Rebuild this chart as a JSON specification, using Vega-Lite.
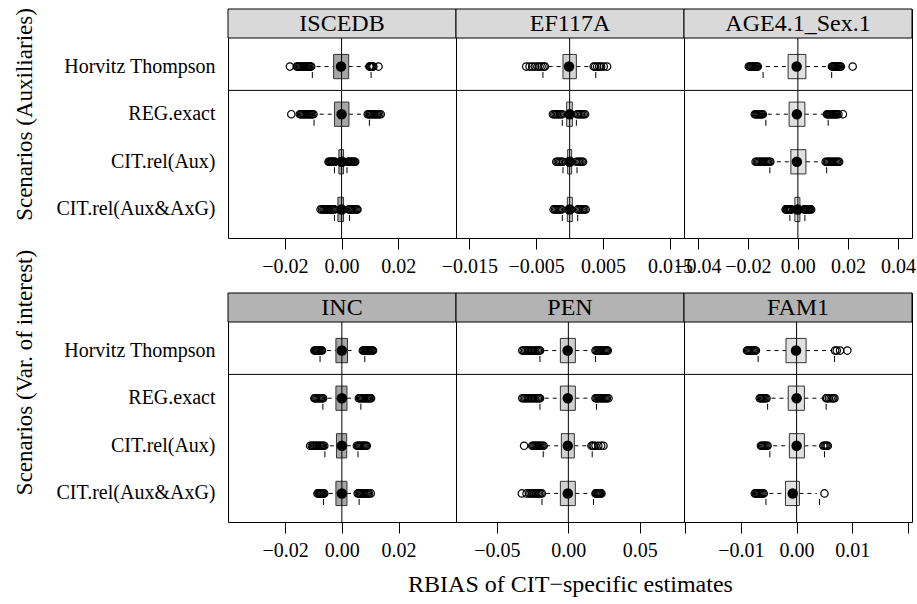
{
  "$schema": "https://vega.github.io/schema/vega-lite/v6.json",
  "padding": {"left": 13, "top": 7, "right": 2, "bottom": 2},
  "background": "white",
  "columns": 3,
  "spacing": {"row": 55, "column": 0},
  "bounds": "flush",
  "datasets": {
    "boxes": [
      {"panel":"ISCEDB","scenario":"Horvitz Thompson","lo":-0.0088,"q1":-0.0028,"med":-0.0002,"q3":0.0025,"hi":0.0088,"tlo":-0.0103,"thi":0.0104,"out":[-0.0182,-0.0158,-0.0154,-0.0150,-0.0146,-0.0142,-0.0138,-0.0134,-0.0130,-0.0126,-0.0122,-0.0118,-0.0114,-0.0110,-0.0107,0.0098,0.0100,0.0103,0.0106,0.0109,0.0112,0.0130]},
      {"panel":"ISCEDB","scenario":"REG.exact","lo":-0.0077,"q1":-0.0025,"med":0.0,"q3":0.0026,"hi":0.008,"tlo":-0.0097,"thi":0.0098,"out":[-0.0177,-0.0147,-0.0143,-0.0139,-0.0135,-0.0131,-0.0127,-0.0123,-0.0119,-0.0115,-0.0111,-0.0107,-0.0103,-0.0099,0.0092,0.0096,0.0100,0.0104,0.0108,0.0112,0.0116,0.0120,0.0124,0.0128,0.0133,0.0138]},
      {"panel":"ISCEDB","scenario":"CIT.rel(Aux)","lo":-0.0017,"q1":-0.00095,"med":0.0001,"q3":0.0007,"hi":0.0017,"tlo":-0.0025,"thi":0.0019,"out":[-0.0046,-0.0043,-0.0040,-0.0037,-0.0034,-0.0031,-0.0028,-0.0025,-0.0022,0.0021,0.0024,0.0027,0.0030,0.0033,0.0036,0.0039,0.0042,0.0045,0.0048]},
      {"panel":"ISCEDB","scenario":"CIT.rel(Aux&AxG)","lo":-0.0022,"q1":-0.0013,"med":0.0,"q3":0.0007,"hi":0.002,"tlo":-0.0025,"thi":0.0028,"out":[-0.0074,-0.0069,-0.0064,-0.0060,-0.0056,-0.0052,-0.0048,-0.0044,-0.0040,-0.0036,-0.0032,-0.0028,-0.0025,0.0025,0.0029,0.0033,0.0037,0.0041,0.0045,0.0049,0.0053,0.0056]},
      {"panel":"EF117A","scenario":"Horvitz Thompson","lo":-0.00315,"q1":-0.001,"med":-0.0001,"q3":0.001,"hi":0.0029,"tlo":-0.004,"thi":0.0039,"out":[-0.0065,-0.0060,-0.0056,-0.0052,-0.0048,-0.0045,-0.0042,-0.0039,-0.0037,0.0036,0.0038,0.0041,0.0044,0.0047,0.0051,0.0056]},
      {"panel":"EF117A","scenario":"REG.exact","lo":-0.0008,"q1":-0.00045,"med":0.0,"q3":0.0004,"hi":0.0008,"tlo":-0.0011,"thi":0.001,"out":[-0.0025,-0.0023,-0.0021,-0.0019,-0.0017,-0.0015,-0.0013,-0.0011,0.0011,0.0013,0.0015,0.0017,0.0019,0.0021,0.0023]},
      {"panel":"EF117A","scenario":"CIT.rel(Aux)","lo":-0.0008,"q1":-0.0003,"med":0.0,"q3":0.0003,"hi":0.0008,"tlo":-0.001,"thi":0.0011,"out":[-0.0020,-0.0018,-0.0016,-0.0014,-0.0012,-0.0010,0.0010,0.0012,0.0014,0.0016,0.0018,0.0020]},
      {"panel":"EF117A","scenario":"CIT.rel(Aux&AxG)","lo":-0.0009,"q1":-0.00035,"med":0.0,"q3":0.0004,"hi":0.0009,"tlo":-0.0011,"thi":0.0012,"out":[-0.0024,-0.0022,-0.0020,-0.0018,-0.0016,-0.0014,-0.0012,0.0012,0.0014,0.0016,0.0018,0.0020,0.0022,0.0024]},
      {"panel":"AGE4.1_Sex.1","scenario":"Horvitz Thompson","lo":-0.0128,"q1":-0.0039,"med":-0.0005,"q3":0.0032,"hi":0.012,"tlo":-0.0139,"thi":0.0135,"out":[-0.0196,-0.0192,-0.0188,-0.0184,-0.0180,-0.0176,-0.0172,-0.0168,-0.0164,-0.0160,0.0136,0.0140,0.0144,0.0148,0.0152,0.0156,0.0160,0.0164,0.0168,0.0172,0.0219]},
      {"panel":"AGE4.1_Sex.1","scenario":"REG.exact","lo":-0.012,"q1":-0.0035,"med":-0.0004,"q3":0.0028,"hi":0.01,"tlo":-0.0128,"thi":0.0121,"out":[-0.0172,-0.0168,-0.0164,-0.0160,-0.0156,-0.0152,-0.0148,-0.0144,-0.0140,0.0116,0.0120,0.0124,0.0128,0.0132,0.0136,0.0140,0.0144,0.0148,0.0152,0.0156,0.0162,0.0180]},
      {"panel":"AGE4.1_Sex.1","scenario":"CIT.rel(Aux)","lo":-0.0084,"q1":-0.0028,"med":-0.0004,"q3":0.0032,"hi":0.0088,"tlo":-0.0112,"thi":0.0115,"out":[-0.0169,-0.0164,-0.0159,-0.0154,-0.0149,-0.0144,-0.0139,-0.0134,-0.0129,-0.0124,-0.0119,-0.0114,-0.0110,0.0111,0.0116,0.0121,0.0126,0.0131,0.0136,0.0141,0.0146,0.0151,0.0156,0.0161,0.0165]},
      {"panel":"AGE4.1_Sex.1","scenario":"CIT.rel(Aux&AxG)","lo":-0.0024,"q1":-0.0012,"med":-0.0001,"q3":0.0008,"hi":0.0022,"tlo":-0.0032,"thi":0.0028,"out":[-0.0049,-0.0046,-0.0043,-0.0040,-0.0037,-0.0034,-0.0031,-0.0028,-0.0026,0.0025,0.0028,0.0031,0.0034,0.0037,0.0040,0.0043,0.0046,0.0049,0.0053]},
      {"panel":"INC","scenario":"Horvitz Thompson","lo":-0.0053,"q1":-0.0021,"med":0.0,"q3":0.002,"hi":0.0038,"tlo":-0.0077,"thi":0.0081,"out":[-0.0097,-0.0094,-0.0091,-0.0088,-0.0085,-0.0082,-0.0079,-0.0076,-0.0073,-0.0070,0.0074,0.0077,0.0080,0.0083,0.0086,0.0089,0.0092,0.0095,0.0098,0.0101,0.0104,0.0107,0.0110]},
      {"panel":"INC","scenario":"REG.exact","lo":-0.005,"q1":-0.0021,"med":0.0,"q3":0.0018,"hi":0.0042,"tlo":-0.0067,"thi":0.0067,"out":[-0.0097,-0.0094,-0.0090,-0.0086,-0.0082,-0.0078,-0.0074,-0.0070,-0.0066,0.0060,0.0064,0.0068,0.0072,0.0076,0.0080,0.0084,0.0088,0.0092,0.0096,0.0100,0.0103]},
      {"panel":"INC","scenario":"CIT.rel(Aux)","lo":-0.0042,"q1":-0.0019,"med":0.0,"q3":0.0017,"hi":0.0035,"tlo":-0.006,"thi":0.0057,"out":[-0.0112,-0.0106,-0.0102,-0.0098,-0.0094,-0.0090,-0.0086,-0.0082,-0.0078,-0.0074,-0.0070,-0.0066,-0.0062,0.0053,0.0057,0.0061,0.0065,0.0069,0.0073,0.0077,0.0081,0.0085,0.0088]},
      {"panel":"INC","scenario":"CIT.rel(Aux&AxG)","lo":-0.0046,"q1":-0.0021,"med":0.0,"q3":0.0018,"hi":0.0035,"tlo":-0.0065,"thi":0.0061,"out":[-0.0086,-0.0083,-0.0080,-0.0077,-0.0074,-0.0071,-0.0068,-0.0065,-0.0062,0.0056,0.0060,0.0064,0.0068,0.0072,0.0076,0.0080,0.0084,0.0088,0.0092,0.0096,0.0102]},
      {"panel":"PEN","scenario":"Horvitz Thompson","lo":-0.0169,"q1":-0.0056,"med":-0.0005,"q3":0.0049,"hi":0.0162,"tlo":-0.0199,"thi":0.019,"out":[-0.0323,-0.0313,-0.0303,-0.0293,-0.0283,-0.0273,-0.0263,-0.0253,-0.0243,-0.0233,-0.0223,-0.0213,-0.0205,-0.0198,0.0190,0.0198,0.0206,0.0214,0.0222,0.0230,0.0238,0.0246,0.0254,0.0262,0.0270,0.0276]},
      {"panel":"PEN","scenario":"REG.exact","lo":-0.0165,"q1":-0.0056,"med":-0.0004,"q3":0.0049,"hi":0.016,"tlo":-0.0199,"thi":0.0197,"out":[-0.0323,-0.0313,-0.0303,-0.0293,-0.0283,-0.0273,-0.0263,-0.0253,-0.0243,-0.0233,-0.0223,-0.0213,-0.0205,-0.0198,0.0190,0.0198,0.0206,0.0214,0.0222,0.0230,0.0238,0.0246,0.0254,0.0262,0.0270,0.0281]},
      {"panel":"PEN","scenario":"CIT.rel(Aux)","lo":-0.0155,"q1":-0.0049,"med":-0.0004,"q3":0.0042,"hi":0.0134,"tlo":-0.0176,"thi":0.0167,"out":[-0.0310,-0.0253,-0.0245,-0.0237,-0.0229,-0.0221,-0.0213,-0.0205,-0.0197,-0.0189,-0.0181,-0.0173,0.0162,0.0170,0.0178,0.0190,0.0210,0.0230,0.0246]},
      {"panel":"PEN","scenario":"CIT.rel(Aux&AxG)","lo":-0.0155,"q1":-0.0056,"med":-0.0004,"q3":0.0049,"hi":0.0155,"tlo":-0.0185,"thi":0.0176,"out":[-0.0326,-0.0293,-0.0275,-0.0265,-0.0255,-0.0245,-0.0235,-0.0225,-0.0215,-0.0205,-0.0195,-0.0185,0.0190,0.0196,0.0202,0.0208,0.0214,0.0220,0.0226,0.0232]},
      {"panel":"FAM1","scenario":"Horvitz Thompson","lo":-0.0054,"q1":-0.0019,"med":-0.0001,"q3":0.0017,"hi":0.0062,"tlo":-0.0069,"thi":0.0068,"out":[-0.0089,-0.0087,-0.0085,-0.0083,-0.0081,-0.0079,-0.0077,-0.0075,-0.0073,0.0069,0.0072,0.0078,0.0091]},
      {"panel":"FAM1","scenario":"REG.exact","lo":-0.0045,"q1":-0.0015,"med":0.0,"q3":0.0014,"hi":0.0045,"tlo":-0.0052,"thi":0.0053,"out":[-0.0066,-0.0064,-0.0062,-0.0060,-0.0058,-0.0056,-0.0054,0.0053,0.0055,0.0058,0.0061,0.0064,0.0066,0.0068]},
      {"panel":"FAM1","scenario":"CIT.rel(Aux)","lo":-0.0042,"q1":-0.0013,"med":0.0,"q3":0.0014,"hi":0.004,"tlo":-0.0048,"thi":0.005,"out":[-0.0064,-0.0062,-0.0060,-0.0058,-0.0056,-0.0054,-0.0052,0.0048,0.0050,0.0052,0.0054,0.0056]},
      {"panel":"FAM1","scenario":"CIT.rel(Aux&AxG)","lo":-0.0049,"q1":-0.002,"med":-0.0007,"q3":0.0005,"hi":0.0036,"tlo":-0.0055,"thi":0.0041,"out":[-0.0075,-0.0073,-0.0071,-0.0069,-0.0067,-0.0065,-0.0063,-0.0061,-0.0059,0.0050]}
    ]
  },
  "concat": [
    {
      "width": 228, "height": 229,
      "resolve": {"scale": {"y": "independent"}},
      "layer": [
        {
          "data": {"name": "boxes"},
          "transform": [{"filter": "datum.panel == 'ISCEDB'"}],
          "encoding": {"y": {"field": "scenario", "type": "nominal", "scale": {"type": "band", "domain": ["Horvitz Thompson","REG.exact","CIT.rel(Aux)","CIT.rel(Aux&AxG)"], "range": [29, 229], "paddingInner": 0, "paddingOuter": 0.1}, "axis": {"title": "Scenarios (Auxiliaries)", "titleY": 105}}},
          "layer": [
            {"mark": {"type": "rule", "color": "black", "strokeDash": [4, 4]}, "encoding": {"x": {"field": "lo", "type": "quantitative", "scale": {"domain": [-0.04, 0.0403], "nice": false, "zero": false}, "axis": {"values": [-0.02, 0, 0.02], "format": ".2f", "title": null}}, "x2": {"field": "q1"}}},
            {"mark": {"type": "rule", "color": "black", "strokeDash": [4, 4]}, "encoding": {"x": {"field": "q3", "type": "quantitative"}, "x2": {"field": "hi"}}},
            {"mark": {"type": "bar", "height": {"band": 0.51}, "fill": "#a6a6a6", "stroke": "#333333", "strokeWidth": 1}, "encoding": {"x": {"field": "q1", "type": "quantitative"}, "x2": {"field": "q3"}}},
            {"transform": [{"filter": "datum.scenario == 'REG.exact'"}], "mark": {"type": "rule", "color": "black"}, "encoding": {"y": {"field": "scenario", "type": "nominal", "bandPosition": 0}}},
            {"transform": [{"fold": ["tlo", "thi"], "as": ["k", "t"]}], "mark": {"type": "tick", "orient": "vertical", "size": 6, "thickness": 1, "color": "black", "opacity": 1, "yOffset": 8.5}, "encoding": {"x": {"field": "t", "type": "quantitative"}}},
            {"transform": [{"flatten": ["out"], "as": ["v"]}], "mark": {"type": "point", "shape": "circle", "filled": false, "size": 55, "color": "black", "strokeWidth": 1.2, "opacity": 1}, "encoding": {"x": {"field": "v", "type": "quantitative"}}},
            {"mark": {"type": "point", "shape": "circle", "filled": true, "size": 110, "color": "black", "opacity": 1}, "encoding": {"x": {"field": "med", "type": "quantitative"}}}
          ]
        },
        {"data": {"values": [{}]}, "mark": {"type": "rule", "color": "black"}, "encoding": {"x": {"datum": 0, "type": "quantitative"}}},
        {
          "data": {"values": [{"panel": "ISCEDB"}]},
          "encoding": {"y": {"field": "panel", "type": "nominal", "scale": {"type": "band", "range": [0, 29], "paddingInner": 0, "paddingOuter": 0}, "axis": null}},
          "layer": [
            {"mark": {"type": "bar", "fill": "#d9d9d9", "stroke": "black", "strokeWidth": 1}},
            {"mark": {"type": "text", "fontSize": 24, "color": "black"}, "encoding": {"text": {"field": "panel"}}}
          ]
        }
      ]
    },
    {
      "width": 228, "height": 229,
      "resolve": {"scale": {"y": "independent"}},
      "layer": [
        {
          "data": {"name": "boxes"},
          "transform": [{"filter": "datum.panel == 'EF117A'"}],
          "encoding": {"y": {"field": "scenario", "type": "nominal", "scale": {"type": "band", "domain": ["Horvitz Thompson","REG.exact","CIT.rel(Aux)","CIT.rel(Aux&AxG)"], "range": [29, 229], "paddingInner": 0, "paddingOuter": 0.1}, "axis": null}},
          "layer": [
            {"mark": {"type": "rule", "color": "black", "strokeDash": [4, 4]}, "encoding": {"x": {"field": "lo", "type": "quantitative", "scale": {"domain": [-0.017, 0.0171], "nice": false, "zero": false}, "axis": {"values": [-0.015, -0.01, -0.005, 0, 0.005, 0.01, 0.015], "format": ".3f", "labelExpr": "round(datum.value*1000) % 10 == 0 ? '' : datum.label", "title": null}}, "x2": {"field": "q1"}}},
            {"mark": {"type": "rule", "color": "black", "strokeDash": [4, 4]}, "encoding": {"x": {"field": "q3", "type": "quantitative"}, "x2": {"field": "hi"}}},
            {"mark": {"type": "bar", "height": {"band": 0.51}, "fill": "#d3d3d3", "stroke": "#333333", "strokeWidth": 1}, "encoding": {"x": {"field": "q1", "type": "quantitative"}, "x2": {"field": "q3"}}},
            {"transform": [{"filter": "datum.scenario == 'REG.exact'"}], "mark": {"type": "rule", "color": "black"}, "encoding": {"y": {"field": "scenario", "type": "nominal", "bandPosition": 0}}},
            {"transform": [{"fold": ["tlo", "thi"], "as": ["k", "t"]}], "mark": {"type": "tick", "orient": "vertical", "size": 6, "thickness": 1, "color": "black", "opacity": 1, "yOffset": 8.5}, "encoding": {"x": {"field": "t", "type": "quantitative"}}},
            {"transform": [{"flatten": ["out"], "as": ["v"]}], "mark": {"type": "point", "shape": "circle", "filled": false, "size": 55, "color": "black", "strokeWidth": 1.2, "opacity": 1}, "encoding": {"x": {"field": "v", "type": "quantitative"}}},
            {"mark": {"type": "point", "shape": "circle", "filled": true, "size": 110, "color": "black", "opacity": 1}, "encoding": {"x": {"field": "med", "type": "quantitative"}}}
          ]
        },
        {"data": {"values": [{}]}, "mark": {"type": "rule", "color": "black"}, "encoding": {"x": {"datum": 0, "type": "quantitative"}}},
        {
          "data": {"values": [{"panel": "EF117A"}]},
          "encoding": {"y": {"field": "panel", "type": "nominal", "scale": {"type": "band", "range": [0, 29], "paddingInner": 0, "paddingOuter": 0}, "axis": null}},
          "layer": [
            {"mark": {"type": "bar", "fill": "#d9d9d9", "stroke": "black", "strokeWidth": 1}},
            {"mark": {"type": "text", "fontSize": 24, "color": "black"}, "encoding": {"text": {"field": "panel"}}}
          ]
        }
      ]
    },
    {
      "width": 228, "height": 229,
      "resolve": {"scale": {"y": "independent"}},
      "layer": [
        {
          "data": {"name": "boxes"},
          "transform": [{"filter": "datum.panel == 'AGE4.1_Sex.1'"}],
          "encoding": {"y": {"field": "scenario", "type": "nominal", "scale": {"type": "band", "domain": ["Horvitz Thompson","REG.exact","CIT.rel(Aux)","CIT.rel(Aux&AxG)"], "range": [29, 229], "paddingInner": 0, "paddingOuter": 0.1}, "axis": null}},
          "layer": [
            {"mark": {"type": "rule", "color": "black", "strokeDash": [4, 4]}, "encoding": {"x": {"field": "lo", "type": "quantitative", "scale": {"domain": [-0.0455, 0.0456], "nice": false, "zero": false}, "axis": {"values": [-0.04, -0.02, 0, 0.02, 0.04], "format": ".2f", "title": null}}, "x2": {"field": "q1"}}},
            {"mark": {"type": "rule", "color": "black", "strokeDash": [4, 4]}, "encoding": {"x": {"field": "q3", "type": "quantitative"}, "x2": {"field": "hi"}}},
            {"mark": {"type": "bar", "height": {"band": 0.51}, "fill": "#e0e0e0", "stroke": "#333333", "strokeWidth": 1}, "encoding": {"x": {"field": "q1", "type": "quantitative"}, "x2": {"field": "q3"}}},
            {"transform": [{"filter": "datum.scenario == 'REG.exact'"}], "mark": {"type": "rule", "color": "black"}, "encoding": {"y": {"field": "scenario", "type": "nominal", "bandPosition": 0}}},
            {"transform": [{"fold": ["tlo", "thi"], "as": ["k", "t"]}], "mark": {"type": "tick", "orient": "vertical", "size": 6, "thickness": 1, "color": "black", "opacity": 1, "yOffset": 8.5}, "encoding": {"x": {"field": "t", "type": "quantitative"}}},
            {"transform": [{"flatten": ["out"], "as": ["v"]}], "mark": {"type": "point", "shape": "circle", "filled": false, "size": 55, "color": "black", "strokeWidth": 1.2, "opacity": 1}, "encoding": {"x": {"field": "v", "type": "quantitative"}}},
            {"mark": {"type": "point", "shape": "circle", "filled": true, "size": 110, "color": "black", "opacity": 1}, "encoding": {"x": {"field": "med", "type": "quantitative"}}}
          ]
        },
        {"data": {"values": [{}]}, "mark": {"type": "rule", "color": "black"}, "encoding": {"x": {"datum": 0, "type": "quantitative"}}},
        {
          "data": {"values": [{"panel": "AGE4.1_Sex.1"}]},
          "encoding": {"y": {"field": "panel", "type": "nominal", "scale": {"type": "band", "range": [0, 29], "paddingInner": 0, "paddingOuter": 0}, "axis": null}},
          "layer": [
            {"mark": {"type": "bar", "fill": "#d9d9d9", "stroke": "black", "strokeWidth": 1}},
            {"mark": {"type": "text", "fontSize": 24, "color": "black"}, "encoding": {"text": {"field": "panel"}}}
          ]
        }
      ]
    },
    {
      "width": 228, "height": 229,
      "resolve": {"scale": {"y": "independent"}},
      "layer": [
        {
          "data": {"name": "boxes"},
          "transform": [{"filter": "datum.panel == 'INC'"}],
          "encoding": {"y": {"field": "scenario", "type": "nominal", "scale": {"type": "band", "domain": ["Horvitz Thompson","REG.exact","CIT.rel(Aux)","CIT.rel(Aux&AxG)"], "range": [29, 229], "paddingInner": 0, "paddingOuter": 0.1}, "axis": {"title": "Scenarios (Var. of interest)", "titleY": 79}}},
          "layer": [
            {"mark": {"type": "rule", "color": "black", "strokeDash": [4, 4]}, "encoding": {"x": {"field": "lo", "type": "quantitative", "scale": {"domain": [-0.0402, 0.0403], "nice": false, "zero": false}, "axis": {"values": [-0.02, 0, 0.02], "format": ".2f", "title": null}}, "x2": {"field": "q1"}}},
            {"mark": {"type": "rule", "color": "black", "strokeDash": [4, 4]}, "encoding": {"x": {"field": "q3", "type": "quantitative"}, "x2": {"field": "hi"}}},
            {"mark": {"type": "bar", "height": {"band": 0.51}, "fill": "#a6a6a6", "stroke": "#333333", "strokeWidth": 1}, "encoding": {"x": {"field": "q1", "type": "quantitative"}, "x2": {"field": "q3"}}},
            {"transform": [{"filter": "datum.scenario == 'REG.exact'"}], "mark": {"type": "rule", "color": "black"}, "encoding": {"y": {"field": "scenario", "type": "nominal", "bandPosition": 0}}},
            {"transform": [{"fold": ["tlo", "thi"], "as": ["k", "t"]}], "mark": {"type": "tick", "orient": "vertical", "size": 6, "thickness": 1, "color": "black", "opacity": 1, "yOffset": 8.5}, "encoding": {"x": {"field": "t", "type": "quantitative"}}},
            {"transform": [{"flatten": ["out"], "as": ["v"]}], "mark": {"type": "point", "shape": "circle", "filled": false, "size": 55, "color": "black", "strokeWidth": 1.2, "opacity": 1}, "encoding": {"x": {"field": "v", "type": "quantitative"}}},
            {"mark": {"type": "point", "shape": "circle", "filled": true, "size": 110, "color": "black", "opacity": 1}, "encoding": {"x": {"field": "med", "type": "quantitative"}}}
          ]
        },
        {"data": {"values": [{}]}, "mark": {"type": "rule", "color": "black"}, "encoding": {"x": {"datum": 0, "type": "quantitative"}}},
        {
          "data": {"values": [{"panel": "INC"}]},
          "encoding": {"y": {"field": "panel", "type": "nominal", "scale": {"type": "band", "range": [0, 29], "paddingInner": 0, "paddingOuter": 0}, "axis": null}},
          "layer": [
            {"mark": {"type": "bar", "fill": "#b3b3b3", "stroke": "black", "strokeWidth": 1}},
            {"mark": {"type": "text", "fontSize": 24, "color": "black"}, "encoding": {"text": {"field": "panel"}}}
          ]
        }
      ]
    },
    {
      "width": 228, "height": 229,
      "resolve": {"scale": {"y": "independent"}},
      "layer": [
        {
          "data": {"name": "boxes"},
          "transform": [{"filter": "datum.panel == 'PEN'"}],
          "encoding": {"y": {"field": "scenario", "type": "nominal", "scale": {"type": "band", "domain": ["Horvitz Thompson","REG.exact","CIT.rel(Aux)","CIT.rel(Aux&AxG)"], "range": [29, 229], "paddingInner": 0, "paddingOuter": 0.1}, "axis": null}},
          "layer": [
            {"mark": {"type": "rule", "color": "black", "strokeDash": [4, 4]}, "encoding": {"x": {"field": "lo", "type": "quantitative", "scale": {"domain": [-0.0787, 0.081], "nice": false, "zero": false}, "axis": {"values": [-0.05, 0, 0.05], "format": ".2f", "title": "RBIAS of CIT−specific estimates"}}, "x2": {"field": "q1"}}},
            {"mark": {"type": "rule", "color": "black", "strokeDash": [4, 4]}, "encoding": {"x": {"field": "q3", "type": "quantitative"}, "x2": {"field": "hi"}}},
            {"mark": {"type": "bar", "height": {"band": 0.51}, "fill": "#d0d0d0", "stroke": "#333333", "strokeWidth": 1}, "encoding": {"x": {"field": "q1", "type": "quantitative"}, "x2": {"field": "q3"}}},
            {"transform": [{"filter": "datum.scenario == 'REG.exact'"}], "mark": {"type": "rule", "color": "black"}, "encoding": {"y": {"field": "scenario", "type": "nominal", "bandPosition": 0}}},
            {"transform": [{"fold": ["tlo", "thi"], "as": ["k", "t"]}], "mark": {"type": "tick", "orient": "vertical", "size": 6, "thickness": 1, "color": "black", "opacity": 1, "yOffset": 8.5}, "encoding": {"x": {"field": "t", "type": "quantitative"}}},
            {"transform": [{"flatten": ["out"], "as": ["v"]}], "mark": {"type": "point", "shape": "circle", "filled": false, "size": 55, "color": "black", "strokeWidth": 1.2, "opacity": 1}, "encoding": {"x": {"field": "v", "type": "quantitative"}}},
            {"mark": {"type": "point", "shape": "circle", "filled": true, "size": 110, "color": "black", "opacity": 1}, "encoding": {"x": {"field": "med", "type": "quantitative"}}}
          ]
        },
        {"data": {"values": [{}]}, "mark": {"type": "rule", "color": "black"}, "encoding": {"x": {"datum": 0, "type": "quantitative"}}},
        {
          "data": {"values": [{"panel": "PEN"}]},
          "encoding": {"y": {"field": "panel", "type": "nominal", "scale": {"type": "band", "range": [0, 29], "paddingInner": 0, "paddingOuter": 0}, "axis": null}},
          "layer": [
            {"mark": {"type": "bar", "fill": "#b3b3b3", "stroke": "black", "strokeWidth": 1}},
            {"mark": {"type": "text", "fontSize": 24, "color": "black"}, "encoding": {"text": {"field": "panel"}}}
          ]
        }
      ]
    },
    {
      "width": 228, "height": 229,
      "resolve": {"scale": {"y": "independent"}},
      "layer": [
        {
          "data": {"name": "boxes"},
          "transform": [{"filter": "datum.panel == 'FAM1'"}],
          "encoding": {"y": {"field": "scenario", "type": "nominal", "scale": {"type": "band", "domain": ["Horvitz Thompson","REG.exact","CIT.rel(Aux)","CIT.rel(Aux&AxG)"], "range": [29, 229], "paddingInner": 0, "paddingOuter": 0.1}, "axis": null}},
          "layer": [
            {"mark": {"type": "rule", "color": "black", "strokeDash": [4, 4]}, "encoding": {"x": {"field": "lo", "type": "quantitative", "scale": {"domain": [-0.0202, 0.0207], "nice": false, "zero": false}, "axis": {"values": [-0.02, -0.01, 0, 0.01, 0.02], "format": ".2f", "labelExpr": "abs(datum.value) > 0.015 ? '' : datum.label", "title": null}}, "x2": {"field": "q1"}}},
            {"mark": {"type": "rule", "color": "black", "strokeDash": [4, 4]}, "encoding": {"x": {"field": "q3", "type": "quantitative"}, "x2": {"field": "hi"}}},
            {"mark": {"type": "bar", "height": {"band": 0.51}, "fill": "#e0e0e0", "stroke": "#333333", "strokeWidth": 1}, "encoding": {"x": {"field": "q1", "type": "quantitative"}, "x2": {"field": "q3"}}},
            {"transform": [{"filter": "datum.scenario == 'REG.exact'"}], "mark": {"type": "rule", "color": "black"}, "encoding": {"y": {"field": "scenario", "type": "nominal", "bandPosition": 0}}},
            {"transform": [{"fold": ["tlo", "thi"], "as": ["k", "t"]}], "mark": {"type": "tick", "orient": "vertical", "size": 6, "thickness": 1, "color": "black", "opacity": 1, "yOffset": 8.5}, "encoding": {"x": {"field": "t", "type": "quantitative"}}},
            {"transform": [{"flatten": ["out"], "as": ["v"]}], "mark": {"type": "point", "shape": "circle", "filled": false, "size": 55, "color": "black", "strokeWidth": 1.2, "opacity": 1}, "encoding": {"x": {"field": "v", "type": "quantitative"}}},
            {"mark": {"type": "point", "shape": "circle", "filled": true, "size": 110, "color": "black", "opacity": 1}, "encoding": {"x": {"field": "med", "type": "quantitative"}}}
          ]
        },
        {"data": {"values": [{}]}, "mark": {"type": "rule", "color": "black"}, "encoding": {"x": {"datum": 0, "type": "quantitative"}}},
        {
          "data": {"values": [{"panel": "FAM1"}]},
          "encoding": {"y": {"field": "panel", "type": "nominal", "scale": {"type": "band", "range": [0, 29], "paddingInner": 0, "paddingOuter": 0}, "axis": null}},
          "layer": [
            {"mark": {"type": "bar", "fill": "#b3b3b3", "stroke": "black", "strokeWidth": 1}},
            {"mark": {"type": "text", "fontSize": 24, "color": "black"}, "encoding": {"text": {"field": "panel"}}}
          ]
        }
      ]
    }
  ],
  "config": {
    "font": "Liberation Serif, DejaVu Serif, Times New Roman, serif",
    "view": {"stroke": "black", "strokeWidth": 1},
    "axis": {"labelFont": "Liberation Serif, DejaVu Serif, Times New Roman, serif", "titleFont": "Liberation Serif, DejaVu Serif, Times New Roman, serif", "labelColor": "black", "titleColor": "black", "titleFontWeight": "normal", "grid": false, "domain": false},
    "axisX": {"tickSize": 11, "tickColor": "black", "tickWidth": 1, "labelFontSize": 20, "labelPadding": 7, "labelOverlap": false, "titleFontSize": 24, "titlePadding": 12},
    "axisY": {"ticks": false, "tickSize": 0, "labelFontSize": 20, "labelPadding": 13, "titleFontSize": 23, "titlePadding": 19},
    "text": {"font": "Liberation Serif, DejaVu Serif, Times New Roman, serif"}
  }
}
